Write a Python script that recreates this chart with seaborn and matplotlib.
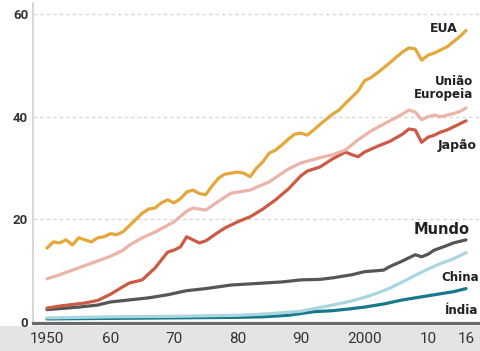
import matplotlib
matplotlib.use("Agg")
import matplotlib.pyplot as plt
import numpy as np
import pandas as pd
import seaborn as sns

# Per-capita CO2 series (keyframe years and values)
usa_years = list(range(1950, 2017))
usa_vals = [14.4, 15.6, 15.4, 16.0, 15.0, 16.4, 16.0, 15.6, 16.4, 16.6,
            17.2, 17.0, 17.6, 18.8, 20.0, 21.2, 22.0, 22.2, 23.2, 23.8,
            23.2, 24.0, 25.3, 25.7, 25.0, 24.8, 26.5, 28.0, 28.8, 29.0,
            29.2, 29.0, 28.3, 30.0, 31.2, 32.9, 33.5, 34.5, 35.6, 36.6,
            36.8, 36.4, 37.4, 38.5, 39.5, 40.5, 41.3, 42.6, 43.8, 45.0,
            47.0, 47.6, 48.5, 49.5, 50.5, 51.6, 52.6, 53.4, 53.2, 51.0,
            52.0, 52.4, 53.0, 53.6, 54.6, 55.6, 56.8]

eu_years = [1950, 1952, 1954, 1956, 1958, 1960, 1962, 1963, 1965, 1967,
            1970, 1972, 1973, 1975, 1977, 1979, 1980, 1982, 1985, 1988,
            1990, 1993, 1995, 1997, 1999, 2001, 2004, 2006, 2007, 2008,
            2009, 2010, 2011, 2012, 2013, 2014, 2015, 2016]
eu_vals = [8.4, 9.2, 10.1, 11.0, 11.9, 12.8, 14.0, 15.0, 16.4, 17.5,
           19.5, 21.6, 22.2, 21.8, 23.5, 25.1, 25.3, 25.7, 27.3, 29.8,
           31.0, 32.0, 32.6, 33.5, 35.5, 37.2, 39.2, 40.5, 41.3, 40.9,
           39.4, 40.0, 40.3, 40.0, 40.3, 40.6, 41.0, 41.7]

japan_years = [1950, 1952, 1954, 1956, 1958, 1960, 1962, 1963, 1965, 1967,
               1969, 1970, 1971, 1972, 1973, 1974, 1975, 1977, 1978, 1980,
               1982, 1984, 1986, 1988, 1990, 1991, 1993, 1995, 1997, 1998,
               1999, 2000, 2002, 2004, 2006, 2007, 2008, 2009, 2010, 2011,
               2012, 2013, 2014, 2015, 2016]
japan_vals = [2.7, 3.1, 3.4, 3.7, 4.2, 5.4, 6.9, 7.6, 8.2, 10.5,
              13.6, 14.0, 14.6, 16.6, 16.0, 15.4, 15.8, 17.5, 18.3, 19.5,
              20.5, 22.0, 23.8, 25.9, 28.5, 29.4, 30.2, 31.8, 33.1, 32.6,
              32.2, 33.1, 34.2, 35.2, 36.6, 37.6, 37.4, 35.0, 36.0, 36.4,
              37.0, 37.4, 38.0, 38.6, 39.2]

world_years = [1950, 1955, 1958, 1960, 1963, 1966, 1969, 1972, 1975, 1979,
               1983, 1987, 1990, 1993, 1995, 1998, 2000, 2002, 2003, 2004,
               2006, 2008, 2009, 2010, 2011, 2013, 2014, 2016]
world_vals = [2.4, 2.9, 3.3, 3.9, 4.3, 4.7, 5.3, 6.1, 6.5, 7.2,
              7.5, 7.8, 8.2, 8.3, 8.6, 9.2, 9.8, 10.0, 10.1, 10.8,
              11.9, 13.1, 12.7, 13.2, 14.0, 14.9, 15.4, 16.0]

china_years = [1950, 1960, 1970, 1980, 1985, 1990, 1995, 1998, 2000, 2002,
               2004, 2006, 2008, 2010, 2012, 2014, 2016]
china_vals = [0.8, 1.0, 1.1, 1.3, 1.6, 2.1, 3.3, 4.1, 4.8, 5.6,
              6.6, 7.8, 9.1, 10.3, 11.4, 12.3, 13.5]

india_years = [1950, 1960, 1970, 1980, 1984, 1988, 1992, 1995, 1998, 2000,
               2003, 2006, 2009, 2011, 2014, 2016]
india_vals = [0.6, 0.7, 0.8, 0.9, 1.0, 1.3, 2.0, 2.2, 2.6, 2.9,
              3.5, 4.3, 4.9, 5.3, 5.9, 6.5]

# drawing order: first entry ends up at the back
series_names = ["Índia", "China", "Mundo", "Japão", "União Europeia", "EUA"]
series_years = [india_years, china_years, world_years, japan_years, eu_years, usa_years]
series_vals = [india_vals, china_vals, world_vals, japan_vals, eu_vals, usa_vals]
series_colors = ["#17798a", "#a9d6df", "#565656", "#cc5a45", "#ecb4a8", "#e6a73a"]

x_ticks = [1950, 1960, 1970, 1980, 1990, 2000, 2010, 2016]
x_tick_labels = ["1950", "60", "70", "80", "90", "2000", "10", "16"]
y_ticks = [0, 20, 40, 60]
y_tick_labels = ["0", "20", "40", "60"]

df = pd.concat(
    [pd.DataFrame({"ano": y, "valor": v, "serie": n})
     for n, y, v in zip(series_names, series_years, series_vals)],
    ignore_index=True,
)

sns.set_theme(style="white")
plt.rcParams["font.family"] = ["DejaVu Sans"]

fig = plt.figure(figsize=(4.81, 3.51), dpi=100)

# light strip behind the year labels
band = fig.add_axes([0, 0, 1, 25 / 351], zorder=0)
band.set_facecolor("#e2e4e6")
band.set_xticks([])
band.set_yticks([])
for s in band.spines.values():
    s.set_visible(False)

ax = fig.add_axes([33 / 481, 28 / 351, 448 / 481, 320 / 351], zorder=2)
ax.patch.set_alpha(0)

for g in [20, 40, 60]:
    ax.axhline(g, color="#d6d6d6", lw=0.9, ls=(0, (3, 2.2)), zorder=0)

sns.lineplot(data=df, x="ano", y="valor", hue="serie", hue_order=series_names,
             palette=dict(zip(series_names, series_colors)), lw=2.3,
             legend=False, ax=ax, sort=True, estimator=None)

ax.set_xlim(1947.8, 2018.35)
ax.set_ylim(-0.2, 62.15)
ax.set_xlabel("")
ax.set_ylabel("")

for s in ["top", "right"]:
    ax.spines[s].set_visible(False)
ax.spines["left"].set_color("#d0d0d0")
ax.spines["left"].set_linewidth(1.2)
ax.spines["bottom"].set_color("#6a6a6a")
ax.spines["bottom"].set_linewidth(2.3)

ax.set_xticks(x_ticks)
ax.set_xticklabels(x_tick_labels, fontfamily="Roboto", fontsize=11, color="#333333")
ax.set_yticks(y_ticks)
ax.set_yticklabels(y_tick_labels, fontfamily="Roboto", fontsize=9.5,
                   fontweight="bold", color="#333333")
ax.tick_params(axis="x", length=0, pad=6.5)
ax.tick_params(axis="y", length=0, pad=3.5)

lab = dict(fontweight="bold", color="#222222", ha="right", va="center")
ax.text(2014.6, 57.1, "EUA", fontsize=9, **lab)
ax.text(2017.1, 45.6, "União\nEuropeia", fontsize=8.6, linespacing=0.95, **lab)
ax.text(2017.7, 34.3, "Japão", fontsize=9, **lab)
ax.text(2016.6, 18.1, "Mundo", fontsize=10.5, **lab)
ax.text(2018.1, 8.6, "China", fontsize=8.6, **lab)
ax.text(2017.9, 2.2, "Índia", fontsize=8.6, **lab)

fig.savefig("out.png", dpi=100)
